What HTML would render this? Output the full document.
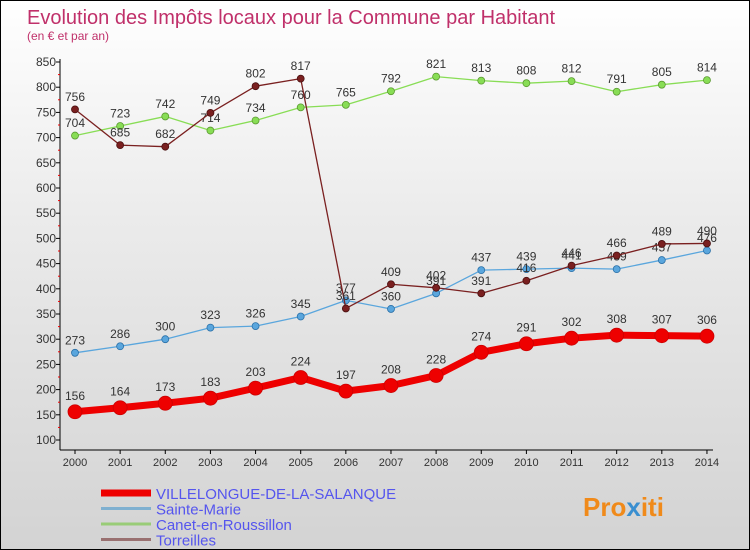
<!DOCTYPE html>
<html><head><meta charset="utf-8"><style>
body{margin:0;}
#wrap{position:relative;width:748px;height:548px;border:1px solid #000;background:linear-gradient(#ffffff 0%,#ebebeb 40%,#d3d3d3 100%);overflow:hidden;font-family:"Liberation Sans",sans-serif;}
</style></head><body>
<div id="wrap">
<svg id="chart" width="748" height="548">
<text x="26" y="23" font-size="20" fill="#c0306a">Evolution des Impôts locaux pour la Commune par Habitant</text>
<text x="26" y="39" font-size="12" fill="#c0306a">(en € et par an)</text>
<g id="axes"></g><g id="series"></g><g id="legend"></g>
<text x="582" y="515" font-size="26" font-weight="bold" fill="#f08a1a">Pro<tspan fill="#3a8fd0">x</tspan>iti</text>
</svg>
</div>
<script>
const years=[2000,2001,2002,2003,2004,2005,2006,2007,2008,2009,2010,2011,2012,2013,2014];
const villelongue=[156,164,173,183,203,224,197,208,228,274,291,302,308,307,306];
const sainteMarie=[273,286,300,323,326,345,377,360,391,437,439,441,439,457,476];
const canet=[704,723,742,714,734,760,765,792,821,813,808,812,791,805,814];
const torreilles=[756,685,682,749,802,817,361,409,402,391,416,446,466,489,490];
const yTicks=[100,150,200,250,300,350,400,450,500,550,600,650,700,750,800,850];
const seriesNames=["VILLELONGUE-DE-LA-SALANQUE","Sainte-Marie","Canet-en-Roussillon","Torreilles"];
const NS="http://www.w3.org/2000/svg";
const X=i=>74+i*45.14;
const Y=v=>439-(v-100)*(378/750);
function mk(tag,attrs,parent){const e=document.createElementNS(NS,tag);for(const k in attrs)e.setAttribute(k,attrs[k]);parent.appendChild(e);return e;}
const axes=document.getElementById('axes');
let a=mk('line',{x1:59,y1:58,x2:59,y2:449,stroke:'#000'},axes);


a=mk('line',{x1:59,y1:449,x2:712,y2:449,stroke:'#000'},axes);


yTicks.forEach(v=>{
 mk('line',{x1:55,y1:Y(v),x2:59,y2:Y(v),stroke:'#000'},axes);
 if(v<850) mk('line',{x1:57,y1:Y(v+25),x2:59,y2:Y(v+25),stroke:'#e00'},axes);
 const t=mk('text',{x:55,y:Y(v)+4,'font-size':12,'text-anchor':'end',fill:'#333'},axes);
 t.textContent=v;
 
 
});
years.forEach((yr,i)=>{
 mk('line',{x1:X(i),y1:449,x2:X(i),y2:453,stroke:'#000'},axes);
 const t=mk('text',{x:X(i),y:465,'font-size':11,'text-anchor':'middle',fill:'#333'},axes);
 t.textContent=yr;
 
 
});
const sg=document.getElementById('series');
function draw(data,color,w,r,name,dotStroke){
 const g=mk('g',{},sg);
 
 
 mk('polyline',{points:data.map((v,i)=>X(i)+','+Y(v)).join(' '),fill:'none',stroke:color,'stroke-width':w,'stroke-linejoin':'round'},g);
 data.forEach((v,i)=>{
  const c=mk('circle',{cx:X(i),cy:Y(v),r:r,fill:color,stroke:dotStroke,'stroke-width':0.8},g);
  
  
  const t=mk('text',{x:X(i),y:Y(v)-r-5,'font-size':12,'text-anchor':'middle',fill:'#333'},g);
  t.textContent=v;
  
  
 });
}
draw(canet,'#88dd55',1.3,3.5,'canet-series','#5a9a30');
draw(sainteMarie,'#5aa6dd',1.3,3.5,'sainte-marie-series','#2a70a8');
draw(torreilles,'#7a2020',1.3,3.5,'torreilles-series','#4a1010');
draw(villelongue,'#ee0000',7,7,'villelongue-series','#cc0000');
const lg=document.getElementById('legend');
const lc=['#ee0000','#7fb0d0','#99cc77','#997070'];
const lw=[7,3,3,3];
seriesNames.forEach((n,i)=>{
 const y=492+i*15.5;
 const l=mk('line',{x1:100,y1:y,x2:150,y2:y,stroke:lc[i],'stroke-width':lw[i]},lg);
 
 
 const t=mk('text',{x:155,y:y+6,'font-size':15,fill:'#5555ee'},lg);
 t.textContent=n;
 
 
});
</script>
</body></html>
